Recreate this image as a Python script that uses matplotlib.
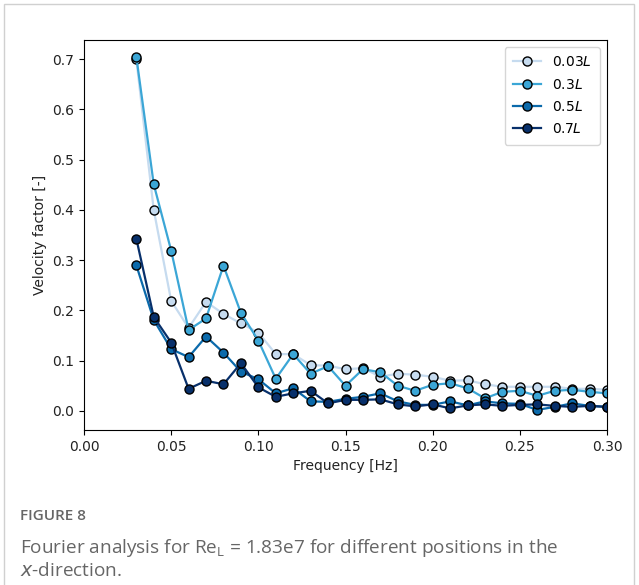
import matplotlib.pyplot as plt
from matplotlib.patches import Rectangle

# DATA
freq = [0.03, 0.04, 0.05, 0.06, 0.07, 0.08, 0.09, 0.10, 0.11, 0.12,
        0.13, 0.14, 0.15, 0.16, 0.17, 0.18, 0.19, 0.20, 0.21, 0.22,
        0.23, 0.24, 0.25, 0.26, 0.27, 0.28, 0.29, 0.30]

v_003 = [0.700, 0.400, 0.219, 0.165, 0.217, 0.193, 0.174, 0.156, 0.113, 0.113,
         0.091, 0.090, 0.083, 0.085, 0.068, 0.074, 0.072, 0.068, 0.060, 0.061,
         0.053, 0.048, 0.048, 0.048, 0.048, 0.044, 0.044, 0.042]
v_03 = [0.705, 0.451, 0.319, 0.161, 0.184, 0.289, 0.195, 0.140, 0.064, 0.113,
        0.074, 0.089, 0.050, 0.083, 0.077, 0.050, 0.040, 0.052, 0.055, 0.045,
        0.025, 0.038, 0.040, 0.030, 0.040, 0.042, 0.038, 0.035]
v_05 = [0.290, 0.181, 0.123, 0.107, 0.148, 0.116, 0.078, 0.063, 0.035, 0.045,
        0.019, 0.018, 0.024, 0.028, 0.035, 0.019, 0.012, 0.012, 0.019, 0.011,
        0.019, 0.015, 0.014, 0.002, 0.008, 0.015, 0.010, 0.008]
v_07 = [0.343, 0.187, 0.136, 0.044, 0.060, 0.053, 0.095, 0.047, 0.028, 0.035,
        0.040, 0.015, 0.022, 0.022, 0.023, 0.013, 0.009, 0.013, 0.005, 0.011,
        0.013, 0.010, 0.012, 0.013, 0.010, 0.008, 0.010, 0.008]

labels = ['0.03$L$', '0.3$L$', '0.5$L$', '0.7$L$']
colors = ['#c6dbef', '#3ba6d6', '#0b6aab', '#08306b']

fig = plt.figure(figsize=(6.39, 5.85), dpi=100)

# OUTER FRAME
fig.patches.append(Rectangle((4 / 639, -0.05), 630 / 639, 1.05 - 4 / 585,
                             transform=fig.transFigure, fill=False,
                             edgecolor='#d0d0d0', linewidth=1))

ax = fig.add_axes([84 / 639, 1 - 430 / 585, 523 / 639, 390 / 585])

for vals, lab, col in zip([v_003, v_03, v_05, v_07], labels, colors):
    ax.plot(freq, vals, '-o', color=col, label=lab, markeredgecolor='black',
            markersize=6.5, linewidth=1.6)

ax.set_xlim(0, 0.3)
ax.set_ylim(-0.038, 0.738)
ax.set_xticks([0.00, 0.05, 0.10, 0.15, 0.20, 0.25, 0.30])
ax.set_xlabel('Frequency [Hz]', fontsize=10, color='#222222')
ax.set_ylabel('Velocity factor [-]', fontsize=10, color='#222222')
ax.tick_params(labelsize=10, labelcolor='#222222')
ax.legend(loc='upper right', fontsize=10, borderpad=0.6, labelspacing=0.6)

# CAPTION
fig.text(20 / 639, 1 - 516 / 585, 'FIGURE 8', fontsize=11, color='#666666',
         va='center', family='Open Sans', fontweight='semibold')
fig.text(20 / 639, 1 - 548 / 585,
         'Fourier analysis for Re$_\\mathregular{L}$ = 1.83e7 for different positions in the',
         fontsize=13.7, color='#666666', va='center', family='Open Sans')
fig.text(20 / 639, 1 - 571 / 585, '$x$-direction.', fontsize=13.7,
         color='#666666', va='center', family='Open Sans')

fig.savefig('out.png', dpi=100)
